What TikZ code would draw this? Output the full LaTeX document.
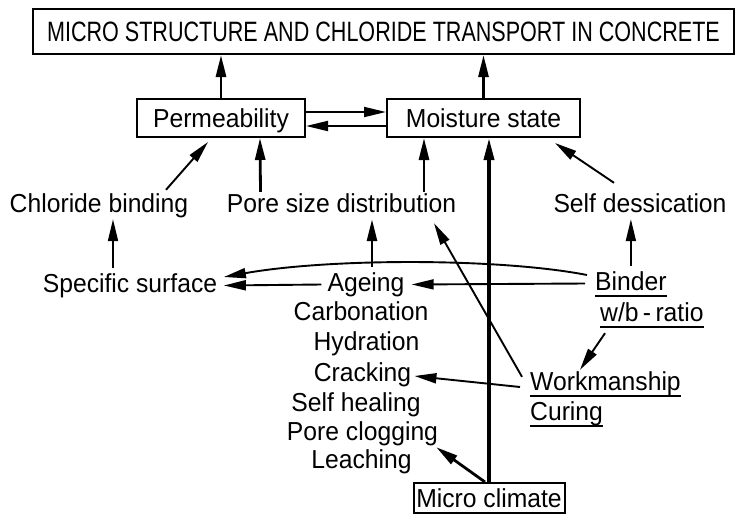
\documentclass[tikz,border=0pt]{standalone}
\usepackage{fontspec}
\setmainfont{Liberation Sans}[FakeStretch=0.95]
\newfontfamily\capsfont{Liberation Sans}[FakeStretch=0.77]
\usetikzlibrary{arrows.meta}

\tikzset{
  lbl/.style={font=\fontsize{26}{30}\selectfont, anchor=base, inner sep=2pt,
    text height=18pt, text depth=5pt},
  box/.style={draw, line width=2pt, inner sep=0pt, font=\fontsize{26}{30}\selectfont},
  arr/.style={-{Triangle[length=22pt 0,width=10pt 0]}, line width=1.9pt},
  fat/.style={arr, line width=2.8pt},
}

\begin{document}
\begin{tikzpicture}[x=1pt,y=-1pt]
  \useasboundingbox (0,0) rectangle (737,515);

  % boxes
  \node[box, minimum width=701pt, minimum height=45pt,
    font=\capsfont\fontsize{28}{32}\selectfont] (title) at (383.5,31.5)
    {MICRO STRUCTURE AND CHLORIDE TRANSPORT IN CONCRETE};
  \node[box, minimum width=168pt, minimum height=38pt, text depth=0pt] (perm) at (221,118) {Permeability};
  \node[box, minimum width=193pt, minimum height=38pt, text depth=0pt] (moist) at (483.5,118) {Moisture state};
  \node[box, minimum width=151pt, minimum height=30pt] (micro) at (489,498) {Micro climate};

  % labels
  \node[lbl] (chl) at (99,212) {Chloride binding};
  \node[lbl] (pore) at (341.5,212) {Pore size distribution};
  \node[lbl] (selfd) at (640,212) {Self dessication};
  \node[lbl] (spec) at (130,292) {Specific surface};
  \node[lbl] (age) at (366,291) {Ageing};
  \node[lbl] (carb) at (361,320) {Carbonation};
  \node[lbl] (hyd) at (366.5,350) {Hydration};
  \node[lbl] (crack) at (362.5,381) {Cracking};
  \node[lbl] (heal) at (356,411) {Self healing};
  \node[lbl] (clog) at (362.5,440) {Pore clogging};
  \node[lbl] (leach) at (361.5,468) {Leaching};
  \node[lbl, anchor=base west] (binder) at (593,290) {Binder};
  \node[lbl, anchor=base west] (wb) at (598,321) {w/b\,-\,ratio};
  \node[lbl, anchor=base west] (work) at (528,390) {Workmanship};
  \node[lbl, anchor=base west] (cure) at (528,420) {Curing};

  % underlines
  \foreach \n in {binder,wb,work,cure}
    \draw[line width=1.6pt] ([xshift=2pt,yshift=1pt]\n.south west) -- ([xshift=-2pt,yshift=1pt]\n.south east);

  % top level
  \draw[fat] (perm.north) -- (perm.north |- title.south);
  \draw[fat] (moist.north) -- (moist.north |- title.south);
  \draw[arr] ([yshift=6pt]perm.east) -- ([yshift=6pt]moist.west);
  \draw[arr] ([yshift=-8pt]moist.west) -- ([yshift=-8pt]perm.east);

  % second row into the boxes
  \draw[arr] ([xshift=67pt,yshift=2pt]chl.north) -- ([xshift=-13pt,yshift=-4pt]perm.south);
  \draw[fat] ([xshift=-81pt]pore.north) -- ([xshift=39pt]perm.south);
  \draw[fat] ([xshift=82.5pt]pore.north) -- ([xshift=-59.5pt]moist.south);
  \draw[arr] ([xshift=-26pt,yshift=9pt]selfd.north) -- ([xshift=-26pt,yshift=-5pt]moist.south east);
  \draw[arr, line width=3.6pt] (micro.north) -- (micro.north |- moist.south);

  % third row
  \draw[arr] ([xshift=-17pt,yshift=4pt]spec.north) -- ([xshift=14pt]chl.south);
  \draw[fat] ([xshift=6pt,yshift=4pt]age.north) -- ([xshift=30.5pt]pore.south);
  \draw[arr] ([yshift=4pt]binder.north) -- (binder.north |- selfd.south);
  \draw[arr] ([xshift=-6pt,yshift=8.5pt]binder.west) .. controls (500,258) and (330,258) .. ([xshift=4.5pt,yshift=8.5pt]spec.east);
  \draw[arr] ([xshift=-8pt]binder.west) -- ([xshift=5pt]age.east);
  \draw[arr] ([xshift=-4pt]age.west) -- ([xshift=4.5pt]spec.east);

  % workmanship and micro climate
  \draw[arr] ([xshift=7pt,yshift=-5pt]wb.south west) -- ([xshift=52pt]work.north west);
  \draw[arr] ([xshift=-8pt,yshift=-3.5pt]work.west) -- ([xshift=1pt,yshift=-1.5pt]crack.east);
  \draw[arr] ([xshift=-6pt,yshift=-7pt]work.north west) -- ([xshift=92.5pt,yshift=-4pt]pore.south);
  \draw[fat] ([xshift=-4pt]micro.north) -- ([xshift=-4pt]clog.south east);
\end{tikzpicture}
\end{document}
